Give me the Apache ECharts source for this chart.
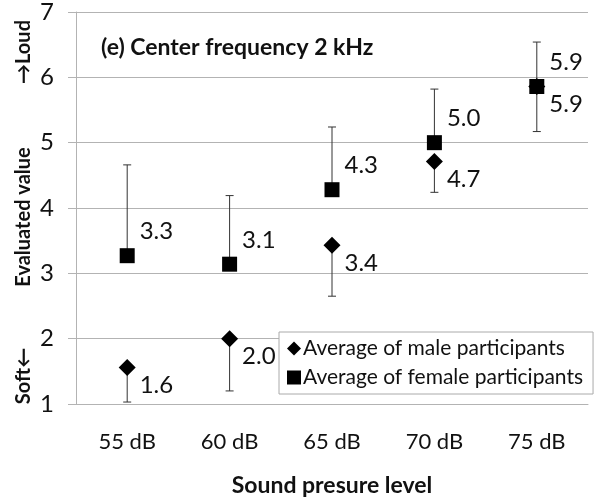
<!DOCTYPE html>
<html>
<head>
<meta charset="utf-8">
<script src="https://cdn.jsdelivr.net/npm/echarts@6/dist/echarts.min.js"></script>
<style>
  html, body { margin: 0; padding: 0; background: #fff; }
  #chart { width: 596px; height: 502px; }
</style>
</head>
<body>
<div id="chart"></div>
<script>
// categories and values
const categories = ['55 dB', '60 dB', '65 dB', '70 dB', '75 dB'];
const maleAvg = [1.56, 2.0, 3.43, 4.71, 5.86];
const femaleAvg = [3.27, 3.14, 4.28, 5.0, 5.86];
// error bar far ends (male goes down, female goes up)
const maleLow = [1.03, 1.2, 2.65, 4.24, 5.17];
const femaleHigh = [4.66, 4.19, 5.24, 5.82, 6.54];
const yTicks = [1, 2, 3, 4, 5, 6, 7];

const FONT = 'Lato';
const GRAY = '#b3b3b3';
const INK = '#111';

function errorBar(params, api) {
  let x = api.value(0);
  let a = api.coord([x, api.value(1)]);
  let b = api.coord([x, api.value(2)]);
  let cap = 4;
  let st = { stroke: '#333', lineWidth: 1 };
  return {
    type: 'group',
    children: [
      { type: 'line', shape: { x1: a[0], y1: a[1], x2: b[0], y2: b[1] }, style: st },
      { type: 'line', shape: { x1: b[0] - cap, y1: b[1], x2: b[0] + cap, y2: b[1] }, style: st }
    ]
  };
}

let maleErr = maleAvg.map((v, i) => [i, v, maleLow[i]]);
let femaleErr = femaleAvg.map((v, i) => [i, v, femaleHigh[i]]);

let option = {
  animation: false,
  textStyle: { fontFamily: FONT },
  grid: { left: 76, right: 8, top: 12, bottom: 97 },
  title: {
    text: '(e) Center frequency 2 kHz',
    left: 96,
    top: 31,
    textStyle: { fontFamily: FONT, fontWeight: 'bold', fontSize: 23, color: INK }
  },
  legend: {
    data: ['Average of male participants', 'Average of female participants'],
    orient: 'vertical',
    left: 279,
    top: 332,
    padding: [6, 10, 6, 8],
    itemGap: 8,
    itemWidth: 14,
    itemHeight: 14,
    backgroundColor: '#fff',
    borderColor: '#aaa',
    borderWidth: 1,
    textStyle: { fontFamily: FONT, fontSize: 21, color: INK, padding: [0, 0, 0, -3] }
  },
  xAxis: {
    type: 'category',
    data: categories,
    boundaryGap: true,
    name: 'Sound presure level',
    nameLocation: 'middle',
    nameGap: 70,
    nameTextStyle: { fontFamily: FONT, fontWeight: 'bold', fontSize: 23, color: INK },
    axisLine: { lineStyle: { color: GRAY } },
    axisTick: { alignWithLabel: true, length: 5, lineStyle: { color: GRAY } },
    axisLabel: { fontFamily: FONT, fontSize: 22, color: INK, margin: 27 }
  },
  yAxis: {
    type: 'value',
    min: yTicks[0],
    max: yTicks[yTicks.length - 1],
    interval: 1,
    axisLine: { show: true, lineStyle: { color: GRAY } },
    axisTick: { show: true, length: 8, lineStyle: { color: GRAY } },
    splitLine: { lineStyle: { color: GRAY } },
    axisLabel: { fontFamily: FONT, fontSize: 24, color: INK, margin: 22 }
  },
  graphic: [
    { type: 'text', x: 24, y: 52, rotation: Math.PI / 2,
      style: { text: '→Loud', font: 'bold 20px Lato', fill: INK, textAlign: 'center', textVerticalAlign: 'middle' } },
    { type: 'text', x: 24, y: 217, rotation: Math.PI / 2,
      style: { text: 'Evaluated value', font: 'bold 20px Lato', fill: INK, textAlign: 'center', textVerticalAlign: 'middle' } },
    { type: 'text', x: 24, y: 376, rotation: Math.PI / 2,
      style: { text: 'Soft←', font: 'bold 20px Lato', fill: INK, textAlign: 'center', textVerticalAlign: 'middle' } }
  ],
  series: [
    {
      type: 'custom',
      name: 'maleErr',
      data: maleErr,
      renderItem: errorBar,
      encode: { x: 0, y: [1, 2] },
      z: 1,
      silent: true
    },
    {
      type: 'custom',
      name: 'femaleErr',
      data: femaleErr,
      renderItem: errorBar,
      encode: { x: 0, y: [1, 2] },
      z: 1,
      silent: true
    },
    {
      type: 'scatter',
      name: 'Average of male participants',
      data: maleAvg,
      symbol: 'diamond',
      symbolSize: [17, 17],
      itemStyle: { color: '#000', opacity: 1 },
      z: 3,
      label: {
        show: true,
        position: 'right',
        distance: 4,
        offset: [0, 18],
        fontFamily: FONT,
        fontSize: 24,
        color: INK,
        formatter: p => p.value.toFixed(1)
      }
    },
    {
      type: 'scatter',
      name: 'Average of female participants',
      data: femaleAvg,
      symbol: 'rect',
      symbolSize: 15,
      itemStyle: { color: '#000', opacity: 1 },
      z: 4,
      label: {
        show: true,
        position: 'right',
        distance: 5,
        offset: [0, -24],
        fontFamily: FONT,
        fontSize: 24,
        color: INK,
        formatter: p => p.value.toFixed(1)
      }
    }
  ]
};

let myChart = echarts.init(document.getElementById('chart'));
myChart.setOption(option);
</script>
</body>
</html>
